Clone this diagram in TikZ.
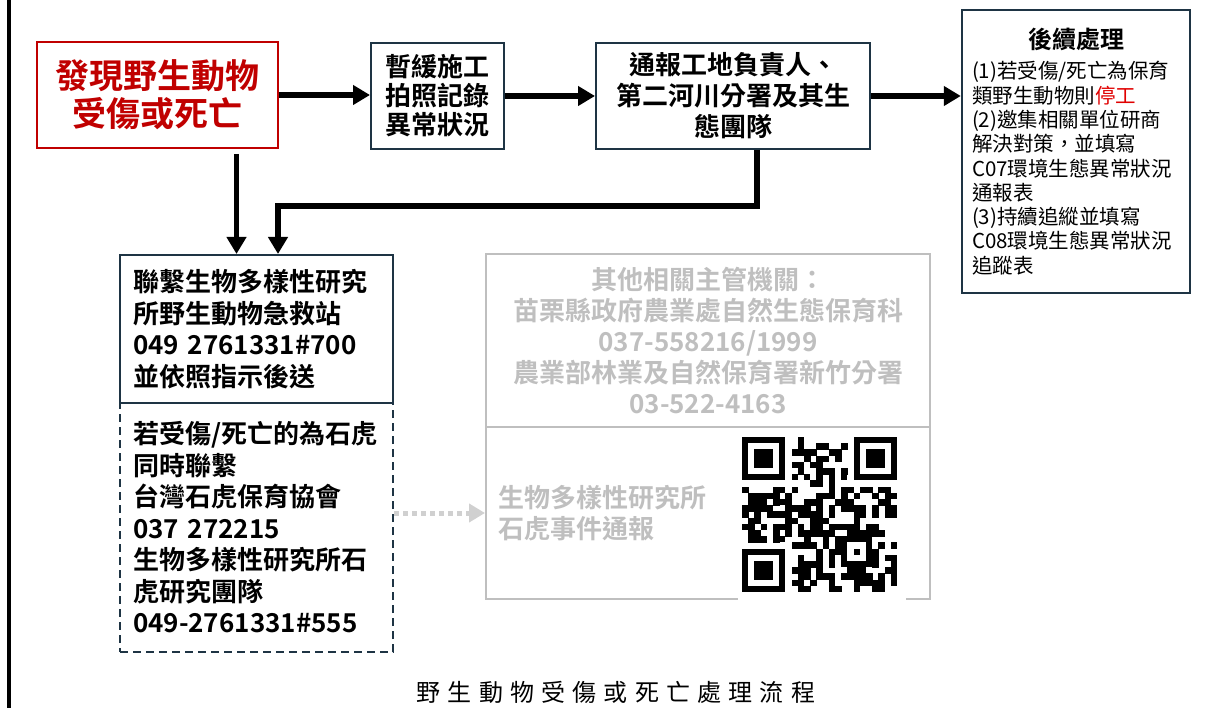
\documentclass[tikz,border=0pt]{standalone}
\usepackage{fontspec}
\setmainfont{Noto Sans CJK TC}[BoldFont={* Bold}]
\newfontfamily\capfont{Noto Sans CJK TC}[LetterSpace=30]
\usetikzlibrary{arrows.meta}
\definecolor{alertred}{HTML}{C00000}
\definecolor{stopred}{HTML}{E00000}
\definecolor{boxline}{HTML}{1E3444}
\definecolor{faint}{HTML}{BFBFBF}
\definecolor{hintgray}{HTML}{D0D0D0}
\def\qrmod{6.2}
\tikzset{
  box/.style={draw=boxline, line width=2pt, align=center, inner sep=0pt,
    font=\bfseries\fontsize{26}{30}\selectfont},
  alarm/.style={box, draw=alertred, text=alertred,
    font=\bfseries\fontsize{34}{38}\selectfont},
  faintbox/.style={box, draw=faint, text=faint,
    font=\bfseries\fontsize{26}{31}\selectfont},
  flow/.style={line width=5.5pt, -{Triangle[length=17pt,width=19pt]}},
  hint/.style={draw=hintgray, line width=5pt, dash pattern=on 5pt off 4pt,
    -{Triangle[length=16pt,width=18pt,fill=hintgray]}}
}

\begin{document}
\begin{tikzpicture}[x=1pt,y=-1pt]
  \useasboundingbox (0,0) rectangle (1217,708);
  \draw[line width=4pt] (9,0) -- (9,708);

  \node[alarm, minimum width=241pt, minimum height=106pt] (found) at (157.5,95)
    {發現野生動物\\受傷或死亡};
  \node[box, minimum width=133pt, minimum height=106pt,
    font=\bfseries\fontsize{26}{29}\selectfont] (pause) at (437.5,96)
    {暫緩施工\\拍照記錄\\異常狀況};
  \node[box, minimum width=274pt, minimum height=106pt,
    font=\bfseries\fontsize{26}{31}\selectfont] (report) at (733,96)
    {通報工地負責人、\\第二河川分署及其生\\態團隊};
  \node[box, line width=2.4pt, minimum width=228pt, minimum height=283pt,
    text width=208pt, align=left, font=\fontsize{20.5}{24.3}\selectfont] (follow) at (1076,151.5)
    {\makebox[\hsize]{\fontsize{24}{24}\selectfont\bfseries 後續處理}\\[6pt]
     (1)若受傷/死亡為保育\\
     類野生動物則{\color{stopred}停工}\\
     (2)邀集相關單位研商\\
     解決對策，並填寫\\
     C07環境生態異常狀況\\
     通報表\\
     (3)持續追縱並填寫\\
     C08環境生態異常狀況\\
     追蹤表};

  \node[box, dash pattern=on 8pt off 5pt, minimum width=273pt, minimum height=249pt,
    text width=247pt, align=left, font=\bfseries\fontsize{26}{31.5}\selectfont] (tiger) at (256.5,527.5)
    {若受傷/死亡的為石虎\\
     同時聯繫\\
     台灣石虎保育協會\\
     037 272215\\
     生物多樣性研究所石\\
     虎研究團隊\\
     049-2761331\#555};
  \node[box, minimum width=273pt, minimum height=148pt, fill=white,
    text width=247pt, align=left, font=\bfseries\fontsize{26}{31.5}\selectfont] (rescue) at (256.5,329)
    {聯繫生物多樣性研究\\
     所野生動物急救站\\
     049 2761331\#700\\
     並依照指示後送};

  \node[faintbox, minimum width=444pt, minimum height=173pt] (agency) at (708,340.5)
    {其他相關主管機關：\\
     苗栗縣政府農業處自然生態保育科\\
     037-558216/1999\\
     農業部林業及自然保育署新竹分署\\
     03-522-4163};
  \node[faintbox, minimum width=444pt, minimum height=172pt,
    text width=420pt, align=left] (online) at (708,513)
    {生物多樣性研究所\\石虎事件通報};

  % qr code
  \fill[white] (738,432) rectangle (906,602);
  \begin{scope}[shift={(742,437)}]
    \pgfmathsetseed{11}
    \foreach \i in {0,...,24}
      \foreach \j in {0,...,24} {
        \pgfmathtruncatemacro\qrbit{((\i<8 && \j<8) || (\i>16 && \j<8) || (\i<8 && \j>16) || (\i>15 && \i<21 && \j>15 && \j<21) || \i==6 || \j==6) ? 0 : (rnd<0.5)}
        \ifnum\qrbit=1 \fill ({\i*\qrmod},{\j*\qrmod}) rectangle ++({\qrmod+0.3},{\qrmod+0.3}); \fi
      }
    \foreach \k in {8,10,...,16} {
      \fill ({\k*\qrmod},{6*\qrmod}) rectangle ++(\qrmod,\qrmod);
      \fill ({6*\qrmod},{\k*\qrmod}) rectangle ++(\qrmod,\qrmod);
    }
    \foreach \fx/\fy in {0/0,18/0,0/18} {
      \draw[line width=6.2pt] ({(\fx+0.5)*\qrmod},{(\fy+0.5)*\qrmod}) rectangle ++({6*\qrmod},{6*\qrmod});
      \fill ({(\fx+2)*\qrmod},{(\fy+2)*\qrmod}) rectangle ++({3*\qrmod},{3*\qrmod});
    }
    \draw[line width=6.2pt] ({16.5*\qrmod},{16.5*\qrmod}) rectangle ++({4*\qrmod},{4*\qrmod});
    \fill ({18*\qrmod},{18*\qrmod}) rectangle ++(\qrmod,\qrmod);
  \end{scope}

  \coordinate (inL) at ([xshift=-20pt]rescue.north);
  \coordinate (inR) at ([xshift=21.5pt]rescue.north);
  \draw[flow] (found.east) -- (found.east -| pause.west);
  \draw[flow] (pause.east) -- (pause.east -| report.west);
  \draw[flow] (report.east) -- (report.east -| follow.west);
  \draw[flow] (found.south -| inL) ++(0,5) -- (inL);
  \draw[flow] ([xshift=24pt]report.south) -- ++(0,56) -| (inR);
  \draw[hint] (online.west -| tiger.east) -- (online.west);

  \node[font=\capfont\fontsize{24}{24}\selectfont] (caption) at (616,692)
    {野生動物受傷或死亡處理流程};
\end{tikzpicture}
\end{document}
